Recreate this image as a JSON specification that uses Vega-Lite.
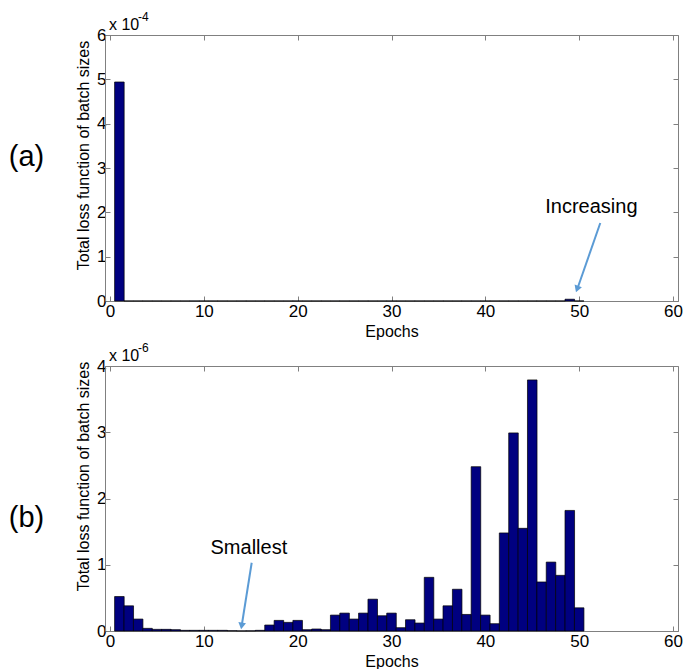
{
  "$schema": "https://vega.github.io/schema/vega-lite/v6.json",
  "background": "white",
  "padding": {"left": 8, "top": 10, "right": 5, "bottom": 4},
  "bounds": "flush",
  "spacing": 65,
  "config": {
    "font": "Liberation Sans",
    "view": {"stroke": "#808080", "strokeWidth": 1},
    "axis": {
      "grid": false,
      "labelFont": "Liberation Sans",
      "labelFontSize": 17,
      "labelColor": "black",
      "titleFont": "Liberation Sans",
      "titleFontSize": 16,
      "titleFontWeight": "normal",
      "titleColor": "black",
      "domainColor": "#808080",
      "tickColor": "#808080",
      "tickSize": -5,
      "labelPadding": 4
    },
    "axisX": {"labelPadding": 7}
  },
  "datasets": {
    "a": [
      {"epoch": 1, "loss": 4.94e-4}, {"epoch": 2, "loss": 1e-7}, {"epoch": 3, "loss": 1e-7}, {"epoch": 4, "loss": 1e-7}, {"epoch": 5, "loss": 1e-7},
      {"epoch": 6, "loss": 1e-7}, {"epoch": 7, "loss": 1e-7}, {"epoch": 8, "loss": 1e-7}, {"epoch": 9, "loss": 1e-7}, {"epoch": 10, "loss": 1e-7},
      {"epoch": 11, "loss": 1e-7}, {"epoch": 12, "loss": 1e-7}, {"epoch": 13, "loss": 1e-7}, {"epoch": 14, "loss": 1e-7}, {"epoch": 15, "loss": 1e-7},
      {"epoch": 16, "loss": 1e-7}, {"epoch": 17, "loss": 1e-7}, {"epoch": 18, "loss": 1e-7}, {"epoch": 19, "loss": 1e-7}, {"epoch": 20, "loss": 1e-7},
      {"epoch": 21, "loss": 1e-7}, {"epoch": 22, "loss": 1e-7}, {"epoch": 23, "loss": 1e-7}, {"epoch": 24, "loss": 1e-7}, {"epoch": 25, "loss": 1e-7},
      {"epoch": 26, "loss": 1e-7}, {"epoch": 27, "loss": 1e-7}, {"epoch": 28, "loss": 1e-7}, {"epoch": 29, "loss": 1e-7}, {"epoch": 30, "loss": 1e-7},
      {"epoch": 31, "loss": 1e-7}, {"epoch": 32, "loss": 1e-7}, {"epoch": 33, "loss": 1e-7}, {"epoch": 34, "loss": 1e-7}, {"epoch": 35, "loss": 1e-7},
      {"epoch": 36, "loss": 1e-7}, {"epoch": 37, "loss": 1e-7}, {"epoch": 38, "loss": 1e-7}, {"epoch": 39, "loss": 1e-7}, {"epoch": 40, "loss": 1e-7},
      {"epoch": 41, "loss": 1e-7}, {"epoch": 42, "loss": 1e-7}, {"epoch": 43, "loss": 1e-7}, {"epoch": 44, "loss": 1e-7}, {"epoch": 45, "loss": 1e-7},
      {"epoch": 46, "loss": 1e-7}, {"epoch": 47, "loss": 1e-7}, {"epoch": 48, "loss": 1e-7}, {"epoch": 49, "loss": 4e-6}, {"epoch": 50, "loss": 1e-7}
    ],
    "b": [
      {"epoch": 1, "loss": 5.2e-7}, {"epoch": 2, "loss": 3.8e-7}, {"epoch": 3, "loss": 1.8e-7}, {"epoch": 4, "loss": 4e-8}, {"epoch": 5, "loss": 2.5e-8},
      {"epoch": 6, "loss": 2.5e-8}, {"epoch": 7, "loss": 2e-8}, {"epoch": 8, "loss": 1e-8}, {"epoch": 9, "loss": 1e-8}, {"epoch": 10, "loss": 1e-8},
      {"epoch": 11, "loss": 1e-8}, {"epoch": 12, "loss": 1e-8}, {"epoch": 13, "loss": 5e-9}, {"epoch": 14, "loss": 2e-9}, {"epoch": 15, "loss": 3e-9},
      {"epoch": 16, "loss": 1e-8}, {"epoch": 17, "loss": 9e-8}, {"epoch": 18, "loss": 1.6e-7}, {"epoch": 19, "loss": 1.3e-7}, {"epoch": 20, "loss": 1.6e-7},
      {"epoch": 21, "loss": 2e-8}, {"epoch": 22, "loss": 3e-8}, {"epoch": 23, "loss": 2e-8}, {"epoch": 24, "loss": 2.4e-7}, {"epoch": 25, "loss": 2.7e-7},
      {"epoch": 26, "loss": 1.8e-7}, {"epoch": 27, "loss": 2.7e-7}, {"epoch": 28, "loss": 4.8e-7}, {"epoch": 29, "loss": 2.3e-7}, {"epoch": 30, "loss": 2.7e-7},
      {"epoch": 31, "loss": 5e-8}, {"epoch": 32, "loss": 1.7e-7}, {"epoch": 33, "loss": 1.2e-7}, {"epoch": 34, "loss": 8.1e-7}, {"epoch": 35, "loss": 1.8e-7},
      {"epoch": 36, "loss": 3.8e-7}, {"epoch": 37, "loss": 6.3e-7}, {"epoch": 38, "loss": 2.5e-7}, {"epoch": 39, "loss": 2.48e-6}, {"epoch": 40, "loss": 2.4e-7},
      {"epoch": 41, "loss": 1.1e-7}, {"epoch": 42, "loss": 1.48e-6}, {"epoch": 43, "loss": 2.99e-6}, {"epoch": 44, "loss": 1.55e-6}, {"epoch": 45, "loss": 3.79e-6},
      {"epoch": 46, "loss": 7.4e-7}, {"epoch": 47, "loss": 1.04e-6}, {"epoch": 48, "loss": 8.4e-7}, {"epoch": 49, "loss": 1.82e-6}, {"epoch": 50, "loss": 3.5e-7}
    ]
  },
  "vconcat": [
    {
      "width": 573,
      "height": 266,
      "resolve": {"axis": {"x": "independent", "y": "independent"}},
      "layer": [
        {
          "data": {"name": "a"},
          "mark": {"type": "bar", "width": 9.55, "color": "#000080", "stroke": "#000000", "strokeWidth": 0.7},
          "encoding": {
            "x": {"field": "epoch", "type": "quantitative", "scale": {"domain": [0, 60], "nice": false},
                  "axis": {"values": [0, 10, 20, 30, 40, 50, 60], "title": "Epochs", "titlePadding": 4}},
            "y": {"field": "loss", "type": "quantitative", "scale": {"domain": [0, 0.0006], "nice": false},
                  "axis": {"values": [0, 0.0001, 0.0002, 0.0003, 0.0004, 0.0005, 0.0006], "labelExpr": "format(datum.value*10000, '.0f')", "title": "Total loss function of batch sizes", "titlePadding": 5, "titleY": 120}}
          }
        },
        {
          "data": {"values": [{}]},
          "mark": {"type": "point", "opacity": 0},
          "encoding": {
            "x": {"datum": 0, "type": "quantitative", "axis": {"orient": "top", "labels": false, "domain": false, "title": null, "values": [0, 10, 20, 30, 40, 50, 60]}},
            "y": {"datum": 0, "type": "quantitative", "axis": {"orient": "right", "labels": false, "domain": false, "title": null, "values": [0, 0.0001, 0.0002, 0.0003, 0.0004, 0.0005, 0.0006]}}
          }
        },
        {
          "data": {"values": [{}]},
          "mark": {"type": "text", "text": "x 10", "fontSize": 16, "align": "left", "baseline": "middle", "dx": -1, "dy": -10, "clip": false},
          "encoding": {"x": {"datum": 0, "type": "quantitative", "axis": null}, "y": {"datum": 0.0006, "type": "quantitative", "axis": null}}
        },
        {
          "data": {"values": [{}]},
          "mark": {"type": "text", "text": "-4", "fontSize": 12, "align": "left", "baseline": "middle", "dx": 28, "dy": -18, "clip": false},
          "encoding": {"x": {"datum": 0, "type": "quantitative", "axis": null}, "y": {"datum": 0.0006, "type": "quantitative", "axis": null}}
        },
        {
          "data": {"values": [{}]},
          "mark": {"type": "text", "text": "(a)", "fontSize": 29, "align": "center", "baseline": "middle", "clip": false},
          "encoding": {"x": {"datum": -8.9, "type": "quantitative", "axis": null}, "y": {"datum": 0.000325, "type": "quantitative", "axis": null}}
        },
        {
          "data": {"values": [{}]},
          "mark": {"type": "text", "text": "Increasing", "fontSize": 20, "align": "center", "baseline": "middle"},
          "encoding": {"x": {"datum": 51.3, "type": "quantitative", "axis": null}, "y": {"datum": 0.000212, "type": "quantitative", "axis": null}}
        },
        {
          "data": {"values": [{}]},
          "mark": {"type": "rule", "color": "#5b9bd5", "strokeWidth": 2},
          "encoding": {
            "x": {"datum": 52.25, "type": "quantitative", "axis": null}, "y": {"datum": 0.000176, "type": "quantitative", "axis": null},
            "x2": {"datum": 49.8}, "y2": {"datum": 0.000027}
          }
        },
        {
          "data": {"values": [{}]},
          "mark": {"type": "point", "shape": "triangle-down", "filled": true, "color": "#5b9bd5", "opacity": 1, "size": 60, "angle": 20},
          "encoding": {"x": {"datum": 49.78, "type": "quantitative", "axis": null}, "y": {"datum": 0.000027, "type": "quantitative", "axis": null}}
        }
      ]
    },
    {
      "width": 573,
      "height": 265,
      "resolve": {"axis": {"x": "independent", "y": "independent"}},
      "layer": [
        {
          "data": {"name": "b"},
          "mark": {"type": "bar", "width": 9.55, "color": "#000080", "stroke": "#000000", "strokeWidth": 0.7},
          "encoding": {
            "x": {"field": "epoch", "type": "quantitative", "scale": {"domain": [0, 60], "nice": false},
                  "axis": {"values": [0, 10, 20, 30, 40, 50, 60], "title": "Epochs", "titlePadding": 4}},
            "y": {"field": "loss", "type": "quantitative", "scale": {"domain": [0, 0.000004], "nice": false},
                  "axis": {"values": [0, 0.000001, 0.000002, 0.000003, 0.000004], "labelExpr": "format(datum.value*1000000, '.0f')", "title": "Total loss function of batch sizes", "titlePadding": 5, "titleY": 110}}
          }
        },
        {
          "data": {"values": [{}]},
          "mark": {"type": "point", "opacity": 0},
          "encoding": {
            "x": {"datum": 0, "type": "quantitative", "axis": {"orient": "top", "labels": false, "domain": false, "title": null, "values": [0, 10, 20, 30, 40, 50, 60]}},
            "y": {"datum": 0, "type": "quantitative", "axis": {"orient": "right", "labels": false, "domain": false, "title": null, "values": [0, 0.000001, 0.000002, 0.000003, 0.000004]}}
          }
        },
        {
          "data": {"values": [{}]},
          "mark": {"type": "text", "text": "x 10", "fontSize": 16, "align": "left", "baseline": "middle", "dx": -1, "dy": -10, "clip": false},
          "encoding": {"x": {"datum": 0, "type": "quantitative", "axis": null}, "y": {"datum": 0.000004, "type": "quantitative", "axis": null}}
        },
        {
          "data": {"values": [{}]},
          "mark": {"type": "text", "text": "-6", "fontSize": 12, "align": "left", "baseline": "middle", "dx": 28, "dy": -18, "clip": false},
          "encoding": {"x": {"datum": 0, "type": "quantitative", "axis": null}, "y": {"datum": 0.000004, "type": "quantitative", "axis": null}}
        },
        {
          "data": {"values": [{}]},
          "mark": {"type": "text", "text": "(b)", "fontSize": 29, "align": "center", "baseline": "middle", "clip": false},
          "encoding": {"x": {"datum": -8.9, "type": "quantitative", "axis": null}, "y": {"datum": 0.00000171, "type": "quantitative", "axis": null}}
        },
        {
          "data": {"values": [{}]},
          "mark": {"type": "text", "text": "Smallest", "fontSize": 20, "align": "center", "baseline": "middle"},
          "encoding": {"x": {"datum": 14.8, "type": "quantitative", "axis": null}, "y": {"datum": 0.00000125, "type": "quantitative", "axis": null}}
        },
        {
          "data": {"values": [{}]},
          "mark": {"type": "rule", "color": "#5b9bd5", "strokeWidth": 2},
          "encoding": {
            "x": {"datum": 15.1, "type": "quantitative", "axis": null}, "y": {"datum": 0.00000103, "type": "quantitative", "axis": null},
            "x2": {"datum": 14.03}, "y2": {"datum": 0.000000075}
          }
        },
        {
          "data": {"values": [{}]},
          "mark": {"type": "point", "shape": "triangle-down", "filled": true, "color": "#5b9bd5", "opacity": 1, "size": 60, "angle": 9},
          "encoding": {"x": {"datum": 14.03, "type": "quantitative", "axis": null}, "y": {"datum": 0.000000075, "type": "quantitative", "axis": null}}
        }
      ]
    }
  ]
}
